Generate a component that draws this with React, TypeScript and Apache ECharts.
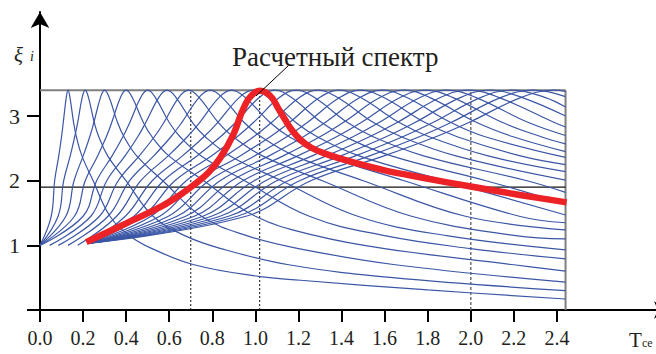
import React, { useEffect, useRef } from "react";
import * as echarts from "echarts";

// Axis ticks / labels
const xTickValues = [0, 0.2, 0.4, 0.6, 0.8, 1.0, 1.2, 1.4, 1.6, 1.8, 2.0, 2.2, 2.4];
const yTickValues = [0, 1, 2, 3];
const yLabelValues = [1, 2, 3];

// Reference lines
const peakLevel = 3.4;
const designLevel = 1.9;
const rightEdgeX = 2.44;
const blackDottedX = [0.7, 1.02];
const grayDottedX = [2.0];

// Family of dynamic coefficient curves
const c00 = [[0,1],[0.052,1.45],[0.068,2.0],[0.087,2.38],[0.1,2.68],[0.108,2.9],[0.122,3.29],[0.13,3.4],[0.139,3.29],[0.156,2.9],[0.169,2.68],[0.195,2.38],[0.247,2.0],[0.325,1.45],[0.416,1.15],[0.52,0.95],[0.715,0.7],[1.014,0.52],[1.21,0.46],[1.8,0.31],[2.44,0.17]];
const c01 = [[0,1],[0.084,1.45],[0.11,2.0],[0.14,2.38],[0.161,2.68],[0.175,2.9],[0.196,3.29],[0.21,3.4],[0.225,3.29],[0.252,2.9],[0.273,2.68],[0.315,2.38],[0.399,2.0],[0.525,1.45],[0.672,1.15],[0.84,0.95],[1.155,0.7],[1.638,0.5],[2.44,0.3]];
const c02 = [[0,1],[0.12,1.45],[0.158,2.0],[0.2,2.38],[0.231,2.68],[0.25,2.9],[0.281,3.29],[0.3,3.4],[0.321,3.29],[0.36,2.9],[0.39,2.68],[0.45,2.38],[0.57,2.0],[0.75,1.45],[0.96,1.15],[1.2,0.95],[1.65,0.7],[2.44,0.43]];
const c03 = [[0,1],[0.16,1.45],[0.21,2.0],[0.267,2.38],[0.308,2.68],[0.333,2.9],[0.374,3.29],[0.4,3.4],[0.428,3.29],[0.48,2.9],[0.52,2.68],[0.6,2.38],[0.76,2.0],[1.0,1.45],[1.28,1.15],[1.6,0.95],[2.2,0.7],[2.44,0.6]];
const c04 = [[0,1],[0.2,1.45],[0.263,2.0],[0.334,2.38],[0.385,2.68],[0.417,2.9],[0.468,3.29],[0.5,3.4],[0.535,3.29],[0.6,2.9],[0.65,2.68],[0.75,2.38],[0.95,2.0],[1.25,1.45],[1.6,1.15],[2.0,0.95],[2.44,0.79]];
const c05 = [[0.045,1],[0.236,1.45],[0.31,2.0],[0.394,2.38],[0.454,2.68],[0.491,2.9],[0.552,3.29],[0.59,3.4],[0.631,3.29],[0.708,2.9],[0.767,2.68],[0.885,2.38],[1.121,2.0],[1.475,1.45],[1.888,1.15],[2.44,0.93]];
const c06 = [[0.085,1],[0.276,1.45],[0.363,2.0],[0.46,2.38],[0.531,2.68],[0.575,2.9],[0.645,3.29],[0.69,3.4],[0.738,3.29],[0.828,2.9],[0.897,2.68],[1.035,2.38],[1.311,2.0],[1.725,1.45],[2.208,1.15],[2.44,1.1]];
const c07 = [[0.13,1],[0.316,1.45],[0.416,2.0],[0.527,2.38],[0.608,2.68],[0.658,2.9],[0.739,3.29],[0.79,3.4],[0.845,3.29],[0.948,2.9],[1.027,2.68],[1.185,2.38],[1.501,2.0],[1.975,1.45],[2.44,1.24]];
const c08 = [[0.175,1],[0.356,1.45],[0.468,2.0],[0.594,2.38],[0.684,2.68],[0.741,2.9],[0.832,3.29],[0.89,3.4],[0.952,3.29],[1.068,2.9],[1.157,2.68],[1.335,2.38],[1.691,2.0],[2.225,1.45],[2.44,1.35]];
const c09 = [[0.22,1.03],[0.396,1.45],[0.521,2.0],[0.66,2.38],[0.761,2.68],[0.825,2.9],[0.926,3.29],[0.99,3.4],[1.059,3.29],[1.188,2.9],[1.287,2.68],[1.485,2.38],[1.881,2.0],[2.44,1.47]];
const c10 = [[0.22,1.03],[0.436,1.45],[0.573,2.0],[0.727,2.38],[0.838,2.68],[0.908,2.9],[1.019,3.29],[1.09,3.4],[1.166,3.29],[1.308,2.9],[1.417,2.68],[1.635,2.38],[2.071,2.0],[2.44,1.64]];
const c11 = [[0.22,1.03],[0.476,1.45],[0.626,2.0],[0.794,2.38],[0.915,2.68],[0.991,2.9],[1.113,3.29],[1.19,3.4],[1.273,3.29],[1.428,2.9],[1.547,2.68],[1.785,2.38],[2.261,2.0],[2.44,1.82]];
const c12 = [[0.22,1.03],[0.516,1.45],[0.679,2.0],[0.86,2.38],[0.992,2.68],[1.075,2.9],[1.206,3.29],[1.29,3.4],[1.38,3.29],[1.548,2.9],[1.677,2.68],[1.935,2.38],[2.44,2.01]];
const c13 = [[0.22,1.03],[0.556,1.45],[0.731,2.0],[0.927,2.38],[1.069,2.68],[1.158,2.9],[1.3,3.29],[1.39,3.4],[1.487,3.29],[1.668,2.9],[1.807,2.68],[2.085,2.38],[2.44,2.14]];
const c14 = [[0.22,1.03],[0.596,1.45],[0.784,2.0],[0.994,2.38],[1.146,2.68],[1.241,2.9],[1.393,3.29],[1.49,3.4],[1.594,3.29],[1.788,2.9],[1.937,2.68],[2.235,2.38],[2.44,2.25]];
const c15 = [[0.22,1.03],[0.636,1.45],[0.836,2.0],[1.061,2.38],[1.223,2.68],[1.324,2.9],[1.487,3.29],[1.59,3.4],[1.701,3.29],[1.908,2.9],[2.067,2.68],[2.44,2.36]];
const c16 = [[0.22,1.03],[0.676,1.45],[0.889,2.0],[1.127,2.38],[1.3,2.68],[1.408,2.9],[1.58,3.29],[1.69,3.4],[1.808,3.29],[2.028,2.9],[2.197,2.68],[2.44,2.45]];
const c17 = [[0.22,1.03],[0.716,1.45],[0.942,2.0],[1.194,2.38],[1.377,2.68],[1.491,2.9],[1.674,3.29],[1.79,3.4],[1.915,3.29],[2.148,2.9],[2.327,2.68],[2.44,2.57]];
const c18 = [[0.22,1.03],[0.756,1.45],[0.994,2.0],[1.261,2.38],[1.453,2.68],[1.574,2.9],[1.767,3.29],[1.89,3.4],[2.022,3.29],[2.268,2.9],[2.44,2.7]];
const c19 = [[0.22,1.03],[0.796,1.45],[1.047,2.0],[1.327,2.38],[1.53,2.68],[1.658,2.9],[1.861,3.29],[1.99,3.4],[2.129,3.29],[2.388,2.9],[2.44,2.83]];
const c20 = [[0.22,1.03],[0.836,1.45],[1.099,2.0],[1.394,2.38],[1.607,2.68],[1.741,2.9],[1.954,3.29],[2.09,3.4],[2.236,3.29],[2.44,3.0]];
const c21 = [[0.22,1.03],[0.876,1.45],[1.152,2.0],[1.461,2.38],[1.684,2.68],[1.824,2.9],[2.048,3.29],[2.19,3.4],[2.343,3.29],[2.44,3.14]];
const c22 = [[0.22,1.03],[0.916,1.45],[1.205,2.0],[1.527,2.38],[1.761,2.68],[1.908,2.9],[2.141,3.29],[2.29,3.4],[2.44,3.3]];
const c23 = [[0.22,1.03],[0.956,1.45],[1.257,2.0],[1.594,2.38],[1.838,2.68],[1.991,2.9],[2.235,3.29],[2.39,3.4],[2.44,3.38]];

const familyCurves = [c00, c01, c02, c03, c04, c05, c06, c07, c08, c09, c10, c11, c12, c13, c14, c15, c16, c17, c18, c19, c20, c21, c22, c23];

// Design spectrum (red)
const designSpectrum = [[0.215,1.05],[0.4,1.34],[0.557,1.59],[0.65,1.78],[0.712,1.93],[0.78,2.12],[0.836,2.35],[0.897,2.71],[0.936,3.05],[0.967,3.26],[1.0,3.37],[1.02,3.39],[1.05,3.36],[1.08,3.27],[1.106,3.12],[1.137,2.95],[1.17,2.78],[1.21,2.63],[1.26,2.51],[1.323,2.42],[1.447,2.29],[1.6,2.16],[1.77,2.05],[2.0,1.91],[2.228,1.78],[2.445,1.665]];

const BLUE = "#3b56a5";
const RED = "#ec2227";
const INK = "#231f20";
const SERIF = "Liberation Serif";

export default function App() {
  const ref = useRef<HTMLDivElement>(null);
  useEffect(() => {
    if (!ref.current) return;
    const chart = echarts.init(ref.current, undefined, { renderer: "svg" });

    const blueSeries = familyCurves.map((d, i) => ({
      type: "line",
      name: "c" + i,
      data: d,
      smooth: 0.4,
      showSymbol: false,
      symbol: "none",
      lineStyle: { color: BLUE, width: 1.2 },
      z: 3,
      silent: true,
    }));

    const refSeries: any[] = [
      { type: "line", data: [[0, peakLevel], [rightEdgeX, peakLevel]], symbol: "none", lineStyle: { color: "#7f7f7f", width: 2 }, z: 2 },
      { type: "line", data: [[rightEdgeX, 0], [rightEdgeX, peakLevel]], symbol: "none", lineStyle: { color: "#7f7f7f", width: 2 }, z: 2 },
      { type: "line", data: [[0, designLevel], [rightEdgeX, designLevel]], symbol: "none", lineStyle: { color: "#111", width: 1.2 }, z: 2 },
      ...blackDottedX.map((x) => ({ type: "line", data: [[x, 0], [x, peakLevel]], symbol: "none", lineStyle: { color: "#111", width: 1, type: [2, 2] }, z: 2 })),
      ...grayDottedX.map((x) => ({ type: "line", data: [[x, 0], [x, peakLevel]], symbol: "none", lineStyle: { color: "#777", width: 1.6, type: [3, 2] }, z: 2 })),
    ];

    const redSeries = {
      type: "line",
      data: designSpectrum,
      smooth: 0.35,
      symbol: "none",
      lineStyle: { color: RED, width: 6.5, cap: "butt" },
      z: 5,
    };

    chart.setOption({
      animation: false,
      grid: { left: 40, right: 0, top: 12, bottom: 44, containLabel: false },
      xAxis: {
        type: "value",
        min: 0,
        max: 2.86,
        axisLine: { show: true, onZero: false, symbol: ["none", "arrow"], symbolSize: [13, 16], symbolOffset: [0, 14], lineStyle: { color: "#000", width: 2 } },
        axisTick: { show: true, customValues: xTickValues, length: 12, lineStyle: { color: "#000", width: 2 } },
        axisLabel: { customValues: xTickValues, formatter: (v: number) => v.toFixed(1), fontFamily: SERIF, fontSize: 20, color: INK, margin: 18 },
        splitLine: { show: false },
      },
      yAxis: {
        type: "value",
        min: 0,
        max: 4.61,
        axisLine: { show: true, onZero: false, symbol: ["none", "arrow"], symbolSize: [14, 16], lineStyle: { color: "#000", width: 2 } },
        axisTick: { show: true, customValues: yTickValues, length: 13, lineStyle: { color: "#000", width: 2 } },
        axisLabel: { customValues: yLabelValues, fontFamily: SERIF, fontSize: 22, color: INK, margin: 20 },
        splitLine: { show: false },
      },
      graphic: [
        { type: "text", x: 14, y: 55, style: { text: "ξ", font: "italic 21px Liberation Serif", fill: INK, verticalAlign: "middle" } },
        { type: "text", x: 30, y: 56, style: { text: "i", font: "italic 14px Liberation Serif", fill: INK, verticalAlign: "middle" } },
        { type: "text", x: 629, y: 340, style: { text: "T", font: "21px Liberation Serif", fill: INK, verticalAlign: "middle" } },
        { type: "text", x: 642, y: 343, style: { text: "ce", font: "12px Liberation Serif", fill: INK, verticalAlign: "middle" } },
        { type: "text", x: 232, y: 57, style: { text: "Расчетный спектр", font: "27px Liberation Serif", fill: INK, verticalAlign: "middle" } },
        { type: "line", shape: { x1: 288, y1: 66, x2: 256, y2: 96 }, style: { stroke: "#000", lineWidth: 1 }, z: 10 },
      ],
      series: [...refSeries, ...blueSeries, redSeries],
    });

    return () => chart.dispose();
  }, []);

  return <div ref={ref} style={{ position: "absolute", left: 0, top: 0, width: 656, height: 354, background: "#fff" }} />;
}
